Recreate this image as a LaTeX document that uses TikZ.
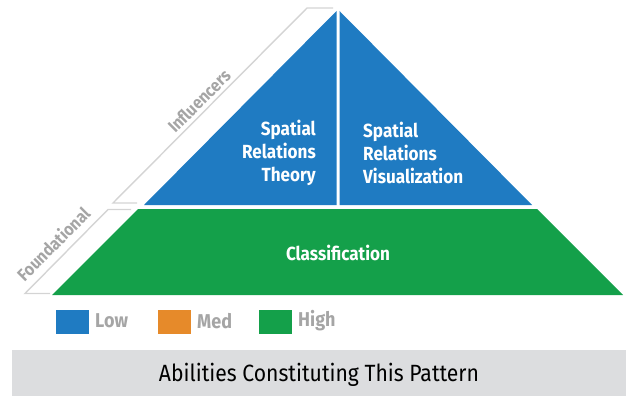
\documentclass[tikz,border=0pt]{standalone}
\usepackage{fontspec}
\setmainfont{Fira Sans}[FakeStretch=0.9]
\definecolor{pblue}{RGB}{31,123,194}
\definecolor{pgreen}{RGB}{20,160,74}
\definecolor{porange}{RGB}{230,138,42}
\definecolor{pband}{RGB}{212,212,212}
\definecolor{plabel}{RGB}{165,165,165}
\definecolor{pfoot}{RGB}{220,221,223}
\begin{document}
\begin{tikzpicture}[x=1pt,y=-1pt,
  band/.style={draw=pband,line width=1.4pt,line join=miter},
  intext/.style={text=white,font=\bfseries\fontsize{19}{23}\selectfont,inner sep=0pt},
  sidelabel/.style={text=plabel,font=\bfseries\fontsize{17.5}{20}\selectfont,rotate=45,inner sep=0pt},
  legbox/.style={minimum width=33pt,minimum height=24pt,inner sep=0pt},
  legtext/.style={text=plabel,font=\bfseries\fontsize{20}{22}\selectfont,inner sep=0pt,anchor=west}]
\useasboundingbox (0,0) rectangle (631,396);
% pyramid
\fill[pblue] (336.5,11) -- (144,205) -- (336.5,205) -- cycle;
\fill[pblue] (339.5,11) -- (339.5,205) -- (532,205) -- cycle;
\fill[pgreen] (138,209) -- (537,209) -- (623,295) -- (52,295) -- cycle;
% side bands
\draw[band] (333,8) -- (307,8) -- (113,203) -- (137,203);
\draw[band] (131,209.5) -- (108,209.5) -- (25,293.5) -- (50,293.5);
\node[sidelabel] (infl) at (199,101) {Influencers};
\node[sidelabel] (found) at (53,244) {Foundational};
% texts
\node[intext,align=right,anchor=east] (srt) at (316,153) {Spatial\\Relations\\Theory};
\node[intext,align=left,anchor=west] (srv) at (363,153) {Spatial\\Relations\\Visualization};
\node[intext] (cls) at (338,253) {Classification};
% legend
\node[legbox,fill=pblue] (lowbox) at (72,321.5) {};
\node[legtext] (low) at (95,321) {Low};
\node[legbox,fill=porange] (medbox) at (174,321.5) {};
\node[legtext] (med) at (197,321) {Med};
\node[legbox,fill=pgreen] (highbox) at (275,321.5) {};
\node[legtext] (high) at (298,321) {High};
% footer
\fill[pfoot] (12,350) rectangle (626,396);
\node[font=\fontsize{23.5}{26}\selectfont,inner sep=0pt] (foot) at (319,375) {Abilities Constituting This Pattern};
\end{tikzpicture}
\end{document}
